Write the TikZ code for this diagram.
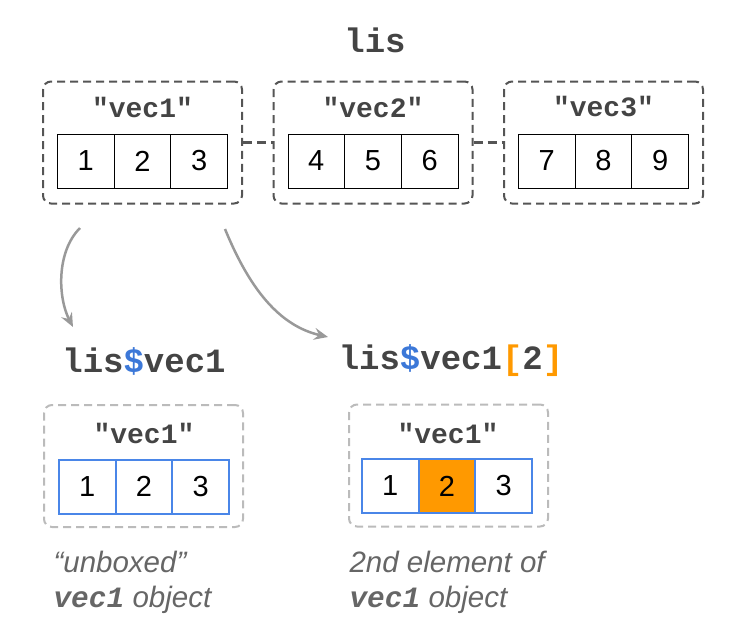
\documentclass[tikz,border=0pt]{standalone}
\usepackage{fontspec}
\setmainfont{Liberation Sans}
\setmonofont{Liberation Mono}
\usetikzlibrary{arrows.meta,positioning}
\definecolor{codegray}{HTML}{444444}
\definecolor{boxgray}{HTML}{555555}
\definecolor{lightbox}{HTML}{BBBBBB}
\definecolor{arrowgray}{HTML}{999999}
\definecolor{notegray}{HTML}{666666}
\definecolor{cellblue}{HTML}{4A86E8}
\definecolor{dollarblue}{HTML}{3C78D8}
\definecolor{pickorange}{HTML}{FF9900}

\tikzset{
  listbox/.style={draw=boxgray, line width=2pt, dash pattern=on 8pt off 5pt, rounded corners=8pt,
    minimum width=199pt, minimum height=122pt, inner sep=0pt},
  unboxed/.style={listbox, draw=lightbox},
  cell/.style={draw=black, line width=0.8pt, minimum width=56.7pt, minimum height=54pt,
    inner sep=0pt, outer sep=0pt, font=\fontsize{29}{29}\selectfont},
  bluecell/.style={cell, draw=cellblue, line width=2pt},
  vecname/.style={font=\ttfamily\bfseries\fontsize{28}{28}\selectfont, text=codegray},
  codetitle/.style={font=\ttfamily\bfseries\fontsize{34}{34}\selectfont, text=codegray},
  note/.style={font=\itshape\fontsize{29.5}{35}\selectfont, text=notegray, align=left, anchor=west},
  pick/.style={draw=arrowgray, line width=2.5pt, -{Stealth[length=14pt, width=12pt, inset=5pt]}},
}

\begin{document}
\begin{tikzpicture}[x=1pt, y=-1pt]
    \useasboundingbox (0,0) rectangle (739,640);

    % the list
    \node[codetitle] (lis) at (375,40) {lis};
    \foreach \i/\x/\a/\b/\c in {1/142.5/1/2/3, 2/373/4/5/6, 3/603.5/7/8/9} {
        \node[listbox] (box\i) at (\x,142.5) {};
        \node[vecname] (name\i) at (\x,107) {\textquotedbl vec\i\textquotedbl};
        \node[cell] (cell\i b) at (\x,161) {\b};
        \node[cell, left=0pt of cell\i b] (cell\i a) {\a};
        \node[cell, right=0pt of cell\i b] (cell\i c) {\c};
    }
    \draw[boxgray, line width=2.5pt, dash pattern=on 9pt off 5pt] (box1) -- (box2);
    \draw[boxgray, line width=2.5pt, dash pattern=on 9pt off 5pt] (box2) -- (box3);

    % selections
    \coordinate (from1) at (80,228);
    \coordinate (from2) at (225,229);
    \coordinate (to1) at (73,327);
    \coordinate (to2) at (328,337);
    \draw[pick] (from1) .. controls (56,252) and (58,298) .. (to1);
    \draw[pick] (from2) .. controls (250,290) and (280,326) .. (to2);

    % lis$vec1
    \node[codetitle] (sel1) at (144,361) {lis{\color{dollarblue}\$}vec1};
    \node[unboxed] (ubox) at (143.5,466) {};
    \node[vecname] (uname) at (144,433) {\textquotedbl vec1\textquotedbl};
    \node[bluecell] (ucell2) at (144,486.5) {2};
    \node[bluecell, left=0pt of ucell2] (ucell1) {1};
    \node[bluecell, right=0pt of ucell2] (ucell3) {3};
    \node[note] (unote) at (50,582) {“unboxed”\\{\ttfamily\bfseries\itshape vec1} object};

    % lis$vec1[2]
    \node[codetitle] (sel2) at (451,361) {lis{\color{dollarblue}\$}vec1{\color{pickorange}[}2{\color{pickorange}]}};
    \node[unboxed] (ebox) at (448.5,465.5) {};
    \node[vecname] (ename) at (448,433) {\textquotedbl vec1\textquotedbl};
    \node[bluecell, fill=pickorange] (ecell2) at (447,486) {2};
    \node[bluecell, left=0pt of ecell2] (ecell1) {1};
    \node[bluecell, right=0pt of ecell2] (ecell3) {3};
    \draw[cellblue, line width=2pt] (ecell2.north west) rectangle (ecell2.south east);
    \node[note] (enote) at (346,582) {2nd element of\\{\ttfamily\bfseries\itshape vec1} object};
\end{tikzpicture}
\end{document}
